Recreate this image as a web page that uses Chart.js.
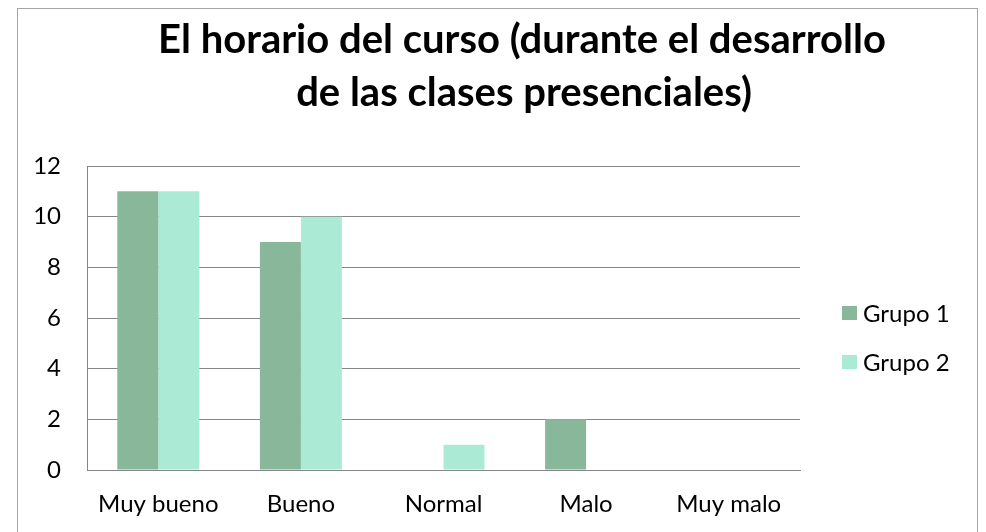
<!DOCTYPE html>
<html lang="es">
<head>
<meta charset="UTF-8">
<title>El horario del curso</title>
<script src="https://cdn.jsdelivr.net/npm/chart.js"></script>
<style>
  html, body { margin: 0; padding: 0; background: #fff; }
  #wrap { width: 986px; height: 532px; }
</style>
</head>
<body>
<div id="wrap"><canvas id="myChart" width="986" height="532"></canvas></div>
<script>
// datos
const categories = ['Muy bueno', 'Bueno', 'Normal', 'Malo', 'Muy malo'];
const grupo1 = [11, 9, 0, 2, 0];
const grupo2 = [11, 10, 1, 0, 0];
const seriesNames = ['Grupo 1', 'Grupo 2'];
const yTicks = [0, 2, 4, 6, 8, 10, 12];
const titleLines = ['El horario del curso (durante el desarrollo', 'de las clases presenciales)'];

const FONT = 'Lato, "Open Sans", sans-serif';

// marco, titulo y leyenda
const decorPlugin = {
  id: 'decor',
  beforeDraw(chart) {
    const { ctx } = chart;
    ctx.save();
    ctx.strokeStyle = '#a6a6a6';
    ctx.lineWidth = 1;
    ctx.strokeRect(17.5, 8.5, 960, 540);
    ctx.restore();
  },
  afterDraw(chart) {
    const { ctx } = chart;
    ctx.save();
    ctx.fillStyle = '#000';
    ctx.textAlign = 'center';
    ctx.textBaseline = 'alphabetic';
    ctx.font = 'bold 40px ' + FONT;
    ctx.fillText(titleLines[0], 522, 53);
    ctx.fillText(titleLines[1], 524, 106);

    // leyenda
    ctx.textAlign = 'left';
    ctx.textBaseline = 'middle';
    ctx.font = '24px ' + FONT;
    chart.data.datasets.forEach((ds, i) => {
      const y = 313 + i * 49;
      ctx.fillStyle = ds.backgroundColor;
      ctx.fillRect(842, y - 7, 15, 14);
      ctx.fillStyle = '#000';
      ctx.fillText(ds.label, 863, y + 1);
    });
    ctx.restore();
  }
};

const ctx = document.getElementById('myChart').getContext('2d');
new Chart(ctx, {
  type: 'bar',
  data: {
    labels: categories,
    datasets: [
      { label: seriesNames[0], data: grupo1, backgroundColor: '#88b899' },
      { label: seriesNames[1], data: grupo2, backgroundColor: '#abebd6' }
    ]
  },
  options: {
    responsive: false,
    animation: false,
    layout: { padding: { top: 166, left: 17, right: 186, bottom: 10 } },
    datasets: { bar: { categoryPercentage: 0.575, barPercentage: 1.0 } },
    plugins: {
      legend: { display: false },
      title: { display: false },
      tooltip: { enabled: false }
    },
    scales: {
      x: {
        grid: { display: false, drawTicks: false },
        border: { display: true, color: '#868686', width: 1 },
        ticks: { color: '#000', font: { family: FONT, size: 24 }, padding: 20, maxRotation: 0, autoSkip: false },
        afterFit(scale) { scale.height = 52; }
      },
      y: {
        min: 0, max: 12,
        afterBuildTicks(scale) { scale.ticks = yTicks.map(v => ({ value: v })); },
        grid: { color: '#868686', drawTicks: false },
        border: { display: true, color: '#868686', width: 1 },
        ticks: { color: '#000', font: { family: FONT, size: 24 }, padding: 26 },
        afterFit(scale) { scale.width = 70; }
      }
    }
  },
  plugins: [decorPlugin]
});
</script>
</body>
</html>
